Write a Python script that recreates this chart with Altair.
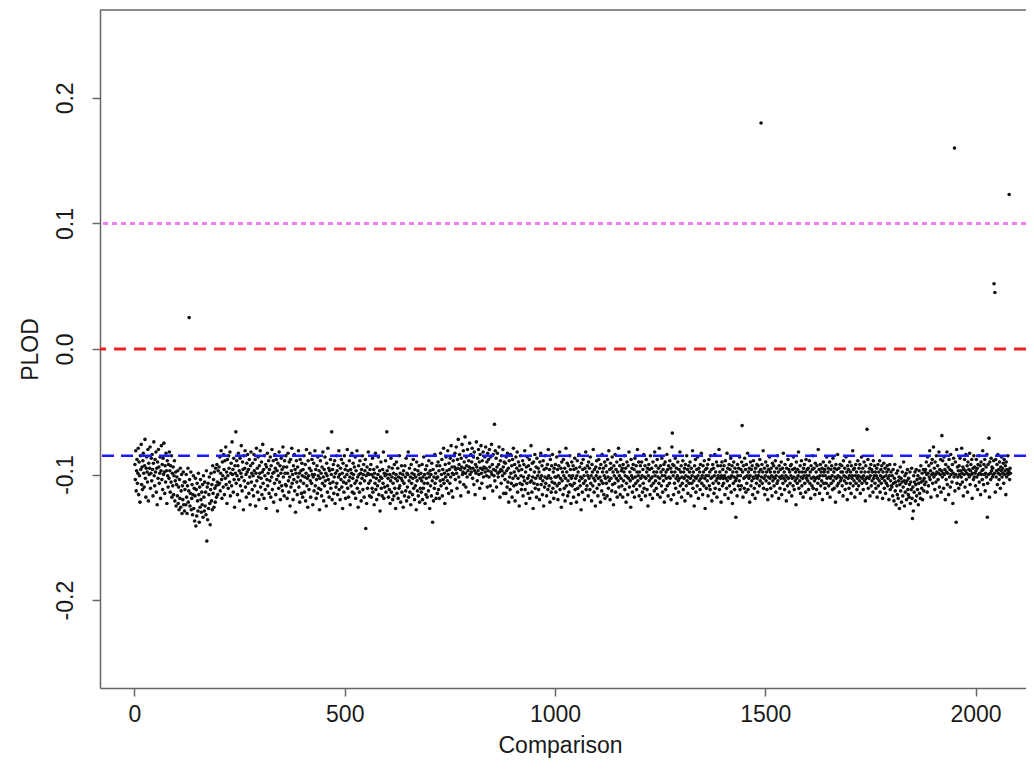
import altair as alt
import pandas as pd

# PLOD of the bulk of comparisons, in thousandths (value = -mag/1000), comparison = position 1..N
plod_mag = [
92,104,81,113,97,88,107,99,79,116,90,101,122,85,96,76,108,94,112,89,83,99,110,93,72,103,118,95,86,98,106,80,121,91,100,95,78,111,99,87,
105,84,96,117,91,74,101,109,88,98,82,114,95,124,90,103,80,94,107,99,86,119,97,77,104,92,112,87,100,75,98,115,93,106,83,97,123,89,101,110,
92,103,82,97,114,93,106,85,118,99,109,94,116,101,89,121,105,98,125,108,102,117,97,123,110,128,104,119,95,126,113,100,131,109,120,98,124,106,129,112,
106,124,100,118,131,109,95,122,113,134,104,125,115,98,128,119,108,132,116,101,127,111,137,117,103,123,112,133,107,121,129,99,116,138,110,126,104,120,130,114,
124,108,134,101,118,129,106,125,114,132,97,120,110,136,107,127,116,102,123,131,112,99,121,108,128,93,115,104,126,98,111,122,95,109,118,92,106,116,97,108,
94,107,86,113,99,81,104,119,90,101,110,84,96,116,89,103,78,108,98,123,88,101,111,85,95,106,82,117,99,91,109,74,100,96,114,87,104,126,93,99,
80,107,89,101,116,93,83,104,97,121,87,109,99,77,102,113,90,96,128,85,105,95,81,110,100,118,91,98,84,107,96,115,88,102,124,93,82,106,99,112,
91,101,117,84,97,109,88,125,99,79,105,95,114,86,102,120,93,99,81,110,103,90,116,98,76,107,96,119,85,101,112,92,127,94,104,83,109,99,89,115,
96,105,86,118,93,102,80,112,99,89,122,98,107,84,95,116,88,104,97,129,91,101,111,82,106,93,120,99,87,109,96,113,78,102,94,117,89,99,108,85,
109,94,119,99,83,105,114,90,102,125,88,110,97,79,107,100,120,93,104,84,113,96,130,99,89,106,116,94,102,81,110,99,122,88,105,97,115,91,101,118,
96,107,85,114,102,92,121,99,80,109,103,126,89,101,112,95,83,105,118,97,107,88,100,124,102,91,113,100,81,109,96,119,104,93,115,86,101,111,97,128,
103,89,112,99,117,94,107,82,102,121,96,109,86,105,99,125,91,101,114,79,104,95,118,97,107,88,111,100,83,120,96,106,92,115,102,89,123,99,110,85,
107,97,116,93,102,81,112,100,120,95,104,88,110,99,127,91,106,114,85,102,96,119,107,93,100,80,111,97,118,105,89,102,124,96,109,99,83,114,103,91,
100,115,94,107,86,119,97,105,81,111,102,126,93,100,114,89,107,99,121,96,103,85,112,100,92,118,105,97,88,109,101,123,94,111,99,82,107,100,117,96,
105,92,118,100,111,87,114,102,96,124,99,107,83,112,103,120,94,109,100,86,116,105,97,129,102,90,111,103,117,96,107,82,119,99,110,101,89,114,100,122,
97,109,103,118,94,112,100,123,105,87,114,102,95,120,107,99,117,92,111,103,127,100,90,115,105,95,119,102,111,85,109,99,122,103,93,114,105,100,126,97,
107,117,93,102,113,87,121,99,110,100,82,118,105,95,114,102,124,92,107,99,116,103,88,111,100,120,96,109,102,128,90,105,113,97,117,100,93,122,103,111,
99,114,105,92,120,102,111,86,107,100,123,96,116,103,93,118,107,99,113,89,102,127,97,109,100,117,91,105,114,96,121,102,111,84,107,99,119,103,93,115,
102,90,112,97,119,93,105,83,109,100,88,117,96,104,79,107,99,123,92,102,86,111,97,105,81,100,115,91,96,107,87,102,77,113,94,99,118,89,100,85,
94,83,104,96,78,99,111,88,95,72,102,92,84,106,96,117,87,94,76,100,98,81,108,90,95,70,99,110,86,93,102,80,97,114,89,94,75,100,95,84,
98,90,79,103,95,86,108,82,97,116,92,99,74,94,105,87,97,80,100,90,111,84,95,77,99,107,89,96,82,102,94,119,86,98,78,95,101,90,110,83,
97,88,102,80,94,109,86,98,76,100,92,113,84,96,101,90,105,81,97,87,110,94,83,99,102,92,78,98,118,89,96,107,85,97,101,80,94,115,90,99,
104,91,115,86,97,110,83,106,95,122,89,102,112,84,99,107,93,118,88,103,79,109,98,92,121,101,86,108,95,82,114,103,90,97,125,93,107,85,101,112,
96,108,89,117,102,92,105,81,112,98,123,94,107,86,103,115,93,101,88,119,106,96,77,105,114,91,102,127,90,107,98,84,111,103,94,118,87,108,101,95,
112,98,120,90,103,83,108,101,93,116,105,89,125,96,110,102,85,107,95,117,103,92,112,80,101,109,96,122,88,103,114,93,106,84,111,98,119,95,107,102,
92,114,102,86,109,96,120,101,93,107,82,112,103,95,126,90,105,98,116,88,101,111,95,121,103,79,109,98,91,117,105,93,114,101,85,108,96,123,103,90,
109,101,93,118,96,107,87,112,103,95,122,101,89,111,98,116,84,105,94,109,102,128,91,103,114,96,88,107,101,120,95,105,82,112,98,109,93,101,117,90,
103,95,112,86,107,101,121,92,98,109,80,103,114,96,105,125,94,101,89,111,98,117,103,88,108,95,102,122,92,105,113,84,98,107,95,116,101,90,119,103,
93,107,98,117,88,102,111,81,105,96,120,91,103,95,113,86,108,98,124,93,101,107,84,114,96,103,90,118,98,105,79,110,101,93,116,88,103,97,109,95,
118,92,105,98,85,112,101,95,122,107,90,102,116,93,103,82,110,98,105,126,88,101,95,114,103,92,109,96,118,87,102,107,93,112,98,80,105,101,90,117,
98,109,93,103,120,90,101,114,96,107,84,111,102,93,117,103,88,98,112,95,125,101,92,105,96,116,85,103,109,95,102,119,90,107,98,113,82,101,105,93,
111,98,88,116,102,95,107,79,103,118,93,98,109,87,101,114,96,105,92,122,101,90,112,98,103,84,109,96,117,93,102,107,89,103,95,120,98,78,105,92,
101,116,93,107,98,87,111,103,95,123,101,90,105,114,96,103,82,109,98,93,118,102,107,89,112,98,103,95,121,92,101,109,85,105,96,115,102,93,107,98,
90,103,117,95,107,101,81,111,98,105,125,93,102,88,114,103,96,109,86,101,119,95,105,98,112,92,103,83,107,101,116,93,98,109,89,103,127,96,101,111,
95,105,92,117,101,88,109,98,112,85,103,96,121,102,92,107,95,115,101,84,111,98,105,90,118,103,93,101,107,80,112,98,103,93,122,101,90,109,96,103,
107,93,101,116,89,103,98,111,83,105,95,119,102,92,109,96,103,87,114,101,93,123,98,107,90,102,112,95,105,82,103,98,117,92,101,109,95,105,86,112,
101,96,109,90,105,98,118,93,103,111,87,102,96,114,92,107,101,83,112,98,103,95,122,101,90,109,96,105,93,116,102,89,103,111,98,119,95,101,107,92,
103,114,93,101,98,109,88,105,96,118,102,92,107,98,81,111,103,95,116,101,90,105,98,112,93,120,102,96,107,86,103,98,111,95,101,117,91,105,102,93,
109,98,103,89,114,101,95,107,85,105,98,119,93,102,111,96,103,90,116,101,95,107,83,103,98,112,92,105,101,121,95,102,109,88,103,96,114,98,107,93,
101,92,117,103,96,109,86,102,112,95,105,98,124,90,103,107,96,101,82,111,98,105,93,115,102,89,109,98,103,118,95,101,92,107,98,114,88,103,101,96,
105,95,112,101,89,107,98,119,93,103,109,96,85,111,102,95,105,116,91,103,98,112,93,102,107,80,103,96,115,101,92,109,98,105,95,120,101,90,107,98,
96,111,101,93,107,86,103,115,98,95,109,102,90,118,103,96,107,93,101,112,87,105,98,111,95,102,122,92,103,96,109,84,101,107,95,114,102,92,105,98,
103,93,109,98,117,89,101,105,95,112,102,86,107,98,120,93,103,96,111,101,90,107,98,115,93,103,101,81,109,96,105,95,118,101,92,107,98,112,103,89,
101,109,95,105,92,115,102,98,86,107,103,95,112,101,90,105,98,121,93,103,107,96,102,88,111,98,103,95,117,101,92,109,96,105,98,114,89,103,101,93,
107,98,111,101,95,118,103,92,109,98,105,89,114,101,96,107,93,103,119,98,102,91,111,105,95,115,101,107,98,93,109,103,96,120,101,92,112,105,98,109,
110,101,117,96,107,121,103,92,113,106,124,99,109,116,97,119,105,102,127,108,94,113,103,122,106,98,117,110,90,105,125,101,114,107,99,120,105,96,112,116,
103,118,108,98,123,106,112,95,119,105,110,129,101,114,106,98,121,108,96,117,104,112,101,124,107,97,115,103,119,93,106,111,99,120,105,96,113,103,108,98,
96,106,90,100,114,86,99,109,93,102,81,104,97,118,91,100,88,107,99,78,102,95,112,90,100,106,85,98,117,93,104,99,82,110,96,100,88,114,97,92,
102,89,99,111,86,100,96,120,92,104,98,82,108,99,94,116,88,102,96,110,84,100,97,106,92,123,99,87,102,96,113,90,100,99,80,107,94,102,97,111,
93,100,87,108,97,102,79,99,106,94,117,96,100,88,110,97,84,104,99,93,114,90,100,96,102,83,108,97,92,100,88,119,99,95,104,85,102,94,99,109,
97,88,102,95,112,92,100,85,106,99,93,116,90,100,97,104,81,96,108,92,100,88,113,99,94,102,84,97,107,92,100,95,118,90,99,104,87,97,94,102,
95,100,89,106,99,93,114,88,102,97,92,108,84,99,96,104,90,100,111,94,97,86,102,95,99,91,107,88,100,97,93,116,90,102,96,99,85,100,97,92,
104,95,99,
]

# Comparisons that stand apart from the cloud (comparison number, PLOD)
extreme_idx = [130, 146, 172, 180, 241, 469, 550, 600, 709, 856, 1279, 1430,
               1445, 1490, 1742, 1850, 1920, 1950, 1954, 2028, 2032, 2044, 2046, 2080]
extreme_val = [0.025, -0.141, -0.153, -0.140, -0.066, -0.066, -0.143, -0.066,
               -0.138, -0.060, -0.067, -0.134, -0.061, 0.180, -0.064, -0.135,
               -0.069, 0.160, -0.138, -0.134, -0.071, 0.052, 0.045, 0.123]

# Horizontal reference lines
ref_pink = [0.1]
ref_red = [0.0]
ref_blue = [-0.085]

x_ticks = [0, 500, 1000, 1500, 2000]
y_ticks = [-0.2, -0.1, 0.0, 0.1, 0.2]

values = {i + 1: -m / 1000.0 for i, m in enumerate(plod_mag)}
for i, v in zip(extreme_idx, extreme_val):
    values[i] = v
df = pd.DataFrame({"Comparison": list(values.keys()), "PLOD": list(values.values())})

FONT = "Liberation Sans"
AX = "#666666"
TXT = "#1a1a1a"
FS = 23

xscale = alt.Scale(domain=[-82, 2120], nice=False, zero=False)
yscale = alt.Scale(domain=[-0.27, 0.27], nice=False, zero=False)

xaxis = alt.Axis(
    values=x_ticks, format="d", title="Comparison", grid=False,
    labelFont=FONT, labelFontSize=FS, labelColor=TXT, labelPadding=7,
    tickSize=8, tickColor=AX, tickWidth=1.5,
    domainColor=AX, domainWidth=1.5,
    titleFont=FONT, titleFontSize=FS, titleFontWeight="normal", titleColor=TXT,
    titleX=460, titleY=57, titleBaseline="middle", titleAlign="center",
)
yaxis = alt.Axis(
    values=y_ticks, title="PLOD", grid=False,
    labelExpr="replace(format(datum.value, '.1f'), '\u2212', '-')",
    labelFont=FONT, labelFontSize=FS, labelColor=TXT,
    labelAngle=-90, labelAlign="center", labelBaseline="middle", labelPadding=27,
    tickSize=8, tickColor=AX, tickWidth=1.5,
    domainColor=AX, domainWidth=1.5,
    titleFont=FONT, titleFontSize=FS, titleFontWeight="normal", titleColor=TXT,
    titleAngle=-90, titleX=-70, titleY=339, titleBaseline="middle", titleAlign="center",
)

pts = alt.Chart(df).mark_circle(size=13, color="#111111", opacity=1).encode(
    x=alt.X("Comparison:Q", scale=xscale, axis=xaxis),
    y=alt.Y("PLOD:Q", scale=yscale, axis=yaxis),
)

top_border = alt.Chart(pd.DataFrame({"y": [0.27]})).mark_rule(
    color=AX, strokeWidth=1.5
).encode(y=alt.Y("y:Q", scale=yscale))

pink = alt.Chart(pd.DataFrame({"y": ref_pink})).mark_rule(
    color="#f07ef0", strokeWidth=3, strokeDash=[5, 4]
).encode(y=alt.Y("y:Q", scale=yscale))

red = alt.Chart(pd.DataFrame({"y": ref_red})).mark_rule(
    color="#f02020", strokeWidth=3, strokeDash=[12, 8]
).encode(y=alt.Y("y:Q", scale=yscale))

blue = alt.Chart(pd.DataFrame({"y": ref_blue})).mark_rule(
    color="#1a1aff", strokeWidth=2.5, strokeDash=[12, 7]
).encode(y=alt.Y("y:Q", scale=yscale))

chart = alt.layer(pts, top_border, pink, red, blue).properties(
    width=926, height=678,
    padding={"left": 92, "top": 2, "right": 0, "bottom": 70},
    autosize=alt.AutoSizeParams(type="none"),
    background="white",
).configure_view(stroke=None)

chart.save("out.html", embed_options={"renderer": "svg", "actions": False})
